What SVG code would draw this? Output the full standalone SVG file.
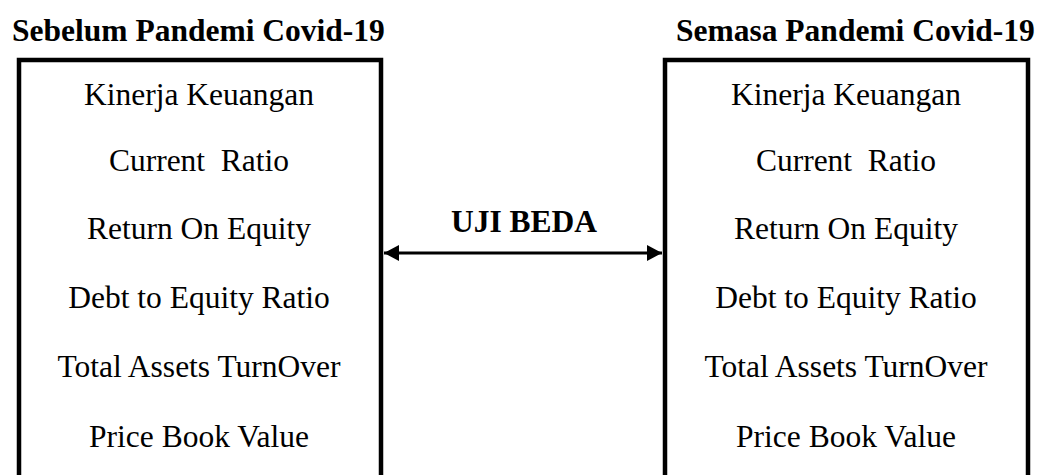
<svg xmlns="http://www.w3.org/2000/svg" width="1044" height="475" viewBox="0 0 1044 475">
  <style>
    .title { font-family: "Liberation Serif", "Times New Roman", serif; font-weight: bold; font-size: 31.5px; fill: #000; }
    .item { font-family: "Liberation Serif", "Times New Roman", serif; font-size: 31.5px; fill: #000; text-anchor: middle; }
    .box { fill: #fff; stroke: #000; stroke-width: 4.5; }
    .link { stroke: #000; stroke-width: 3; fill: none; }
  </style>
  <defs>
    <marker id="head" viewBox="0 0 15 16" refX="15" refY="8" markerWidth="15" markerHeight="16" markerUnits="userSpaceOnUse" orient="auto-start-reverse">
      <path d="M0,0 L15,8 L0,16 Z" fill="#000"/>
    </marker>
  </defs>
  <rect width="1044" height="475" fill="#fff"/>

  <g id="before">
    <text class="title" x="12" y="41">Sebelum Pandemi Covid-19</text>
    <rect class="box" x="19" y="60" width="362" height="430"/>
    <text class="item" x="199" y="105">Kinerja Keuangan</text>
    <text class="item" x="199" y="171" xml:space="preserve">Current  Ratio</text>
    <text class="item" x="199" y="239">Return On Equity</text>
    <text class="item" x="199" y="308">Debt to Equity Ratio</text>
    <text class="item" x="199" y="377">Total Assets TurnOver</text>
    <text class="item" x="199" y="447">Price Book Value</text>
  </g>

  <g id="during">
    <text class="title" x="676" y="41">Semasa Pandemi Covid-19</text>
    <rect class="box" x="665" y="60" width="363" height="430"/>
    <text class="item" x="846" y="105">Kinerja Keuangan</text>
    <text class="item" x="846" y="171" xml:space="preserve">Current  Ratio</text>
    <text class="item" x="846" y="239">Return On Equity</text>
    <text class="item" x="846" y="308">Debt to Equity Ratio</text>
    <text class="item" x="846" y="377">Total Assets TurnOver</text>
    <text class="item" x="846" y="447">Price Book Value</text>
  </g>

  <g id="connectors">
    <line class="link" x1="384" y1="253" x2="662" y2="253" marker-start="url(#head)" marker-end="url(#head)"/>
    <text class="title" x="524" y="232" text-anchor="middle">UJI BEDA</text>
  </g>
</svg>
